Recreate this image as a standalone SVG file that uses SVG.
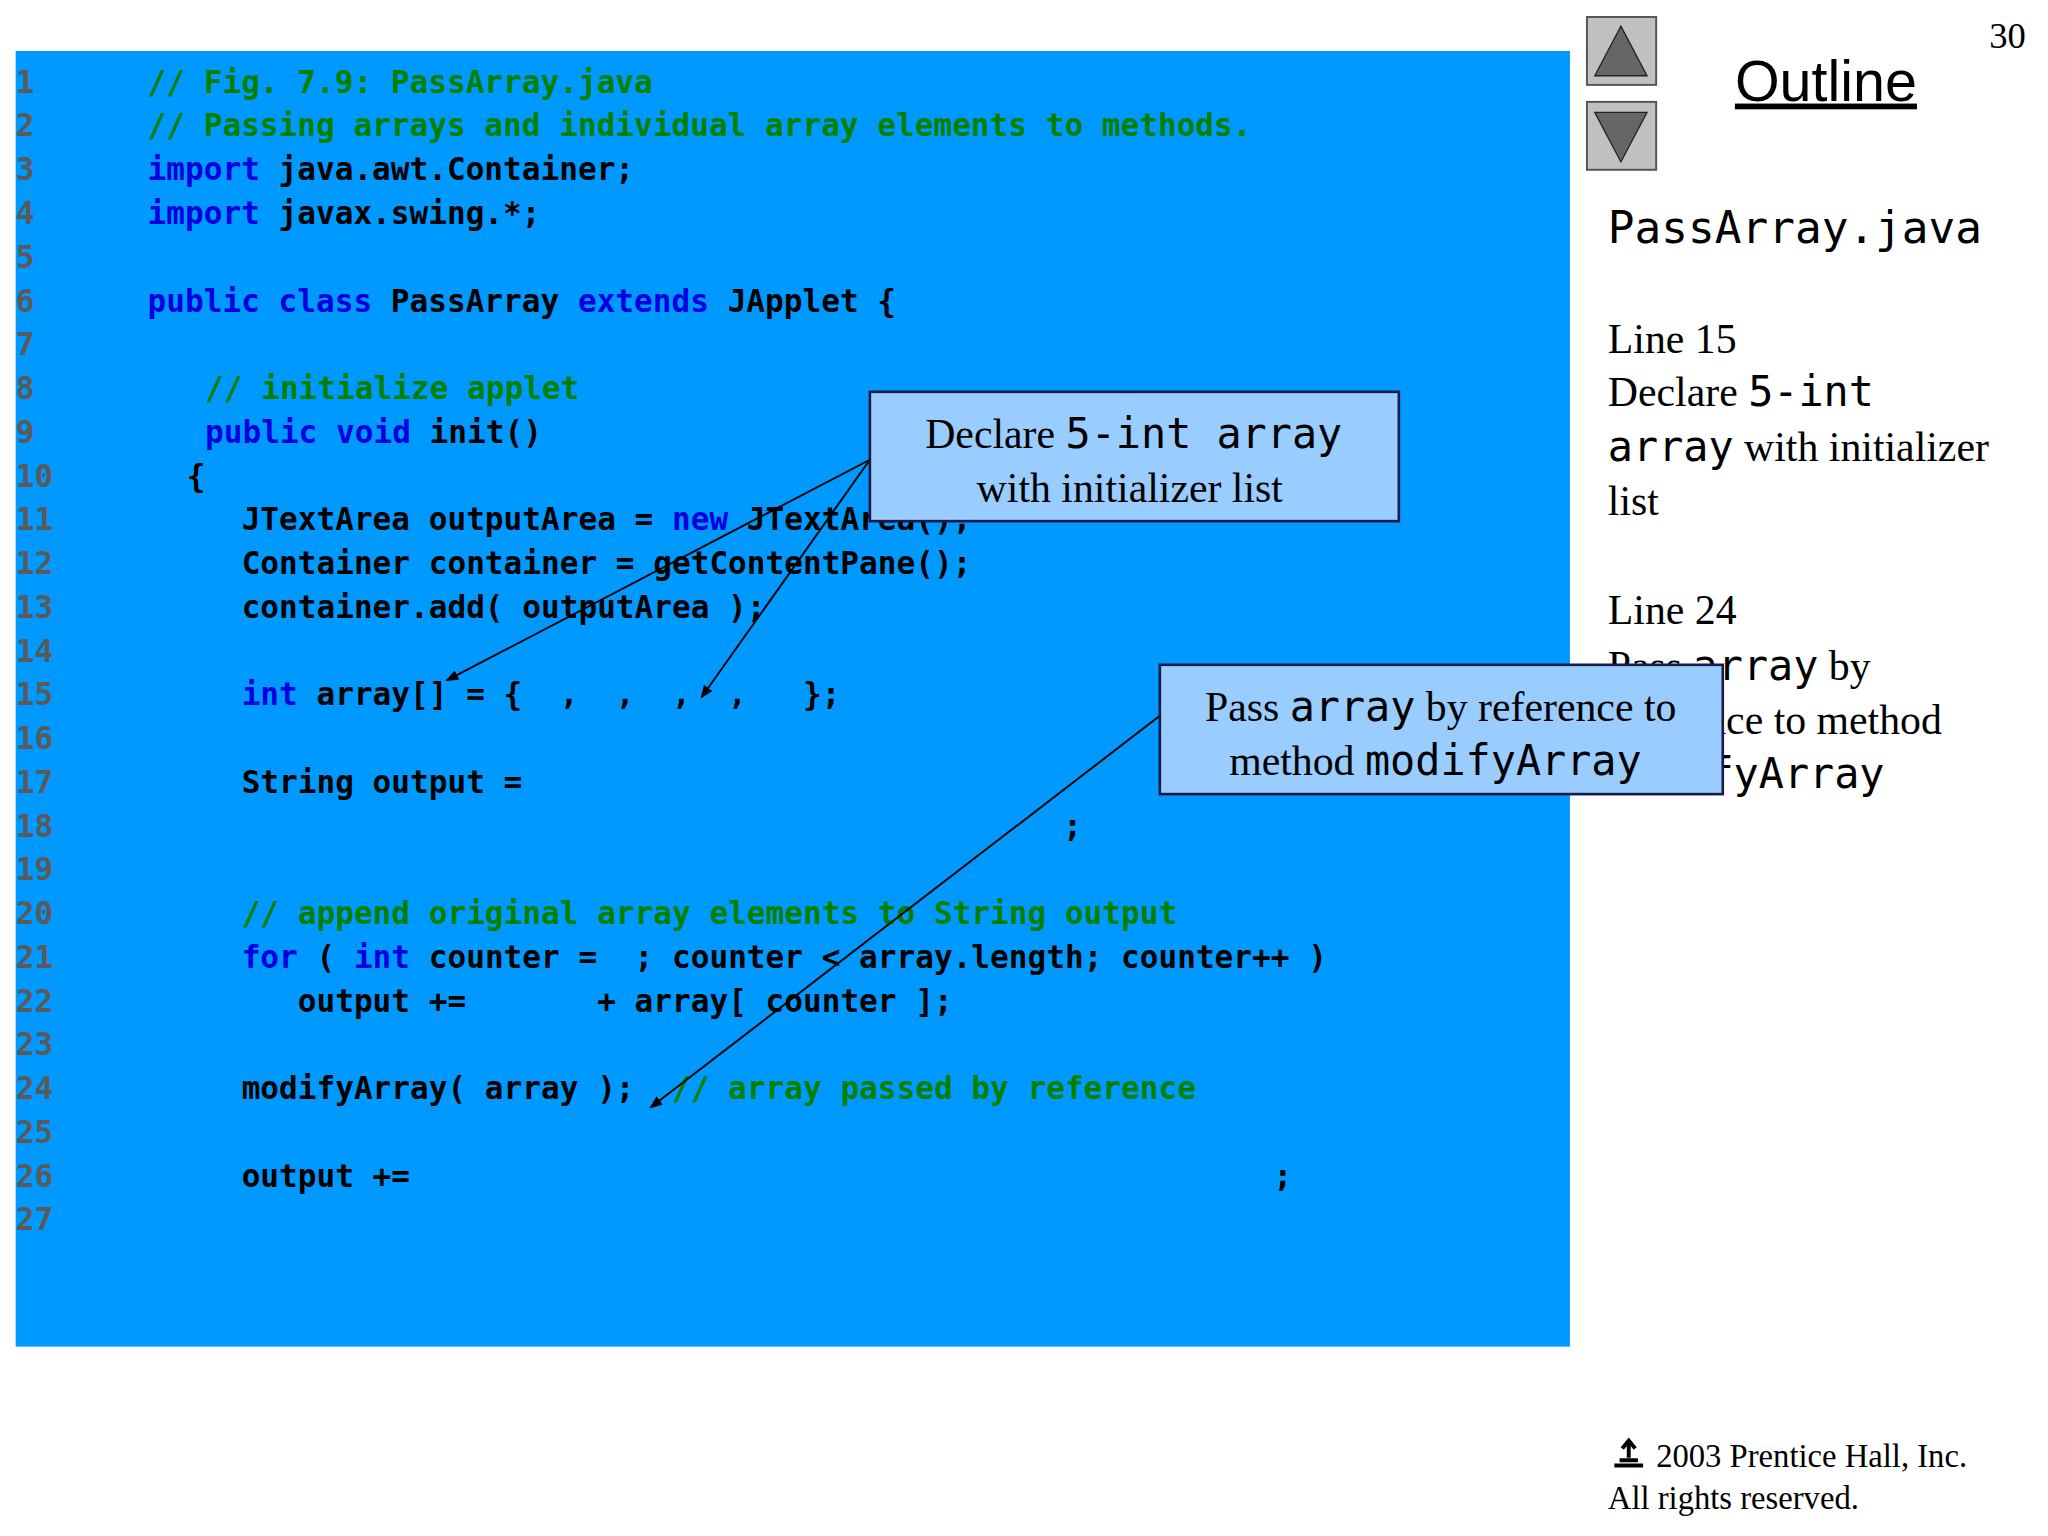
<svg xmlns="http://www.w3.org/2000/svg" width="2048" height="1536" viewBox="0 0 2048 1536">
<style>
text{white-space:pre}
.c{font-family:"DejaVu Sans Mono",monospace;font-weight:bold;font-size:23.8px;fill:#000}
.n{fill:#5a5a5a}.k{fill:#0000E0}.g{fill:#008000}
.s{font-family:"Liberation Serif",serif;font-size:32px;fill:#000}
.f{font-family:"Liberation Serif",serif;font-size:25px;fill:#000}
.m{font-family:"DejaVu Sans Mono",monospace;font-size:32px}
.box{fill:#99CCFF;stroke:#1a1a4a;stroke-width:2}
.arr{stroke:#000;stroke-width:1.5;fill:none;marker-end:url(#ah)}
</style>
<defs><marker id="ah" markerWidth="10" markerHeight="8" refX="9" refY="4" orient="auto" markerUnits="userSpaceOnUse"><path d="M0,0 L10,4 L0,8z" fill="#000"/></marker></defs>
<rect width="2048" height="1536" fill="#fff"/>
<g transform="scale(1.30612)">
<rect id="panel" x="12" y="39" width="1190" height="992" fill="#0099FF"/>
<g id="code" class="c" xml:space="preserve">
<text x="12" y="71" class="n">1</text><text x="113" y="71" class="g">// Fig. 7.9: PassArray.java</text>
<text x="12" y="104.5" class="n">2</text><text x="113" y="104.5" class="g">// Passing arrays and individual array elements to methods.</text>
<text x="12" y="138" class="n">3</text><text x="113" y="138"><tspan class="k">import</tspan> java.awt.Container;</text>
<text x="12" y="171.5" class="n">4</text><text x="113" y="171.5"><tspan class="k">import</tspan> javax.swing.*;</text>
<text x="12" y="205" class="n">5</text>
<text x="12" y="238.5" class="n">6</text><text x="113" y="238.5"><tspan class="k">public class</tspan> PassArray <tspan class="k">extends</tspan> JApplet {</text>
<text x="12" y="272" class="n">7</text>
<text x="12" y="305.5" class="n">8</text><text x="157" y="305.5" class="g">// initialize applet</text>
<text x="12" y="339" class="n">9</text><text x="157" y="339"><tspan class="k">public void</tspan> init()</text>
<text x="12" y="372.5" class="n">10</text><text x="143" y="372.5">{</text>
<text x="12" y="406" class="n">11</text><text x="185" y="406">JTextArea outputArea = <tspan class="k">new</tspan> JTextArea();</text>
<text x="12" y="439.5" class="n">12</text><text x="185" y="439.5">Container container = getContentPane();</text>
<text x="12" y="473" class="n">13</text><text x="185" y="473">container.add( outputArea );</text>
<text x="12" y="506.5" class="n">14</text>
<text x="12" y="540" class="n">15</text><text x="185" y="540"><tspan class="k">int</tspan> array[] = {  ,  ,  ,  ,   };</text>
<text x="12" y="573.5" class="n">16</text>
<text x="12" y="607" class="n">17</text><text x="185" y="607">String output =</text>
<text x="12" y="640.5" class="n">18</text><text x="814" y="640.5">;</text>
<text x="12" y="674" class="n">19</text>
<text x="12" y="707.5" class="n">20</text><text x="185" y="707.5" class="g">// append original array elements to String output</text>
<text x="12" y="741" class="n">21</text><text x="185" y="741"><tspan class="k">for</tspan> ( <tspan class="k">int</tspan> counter =  ; counter &lt; array.length; counter++ )</text>
<text x="12" y="774.5" class="n">22</text><text x="228" y="774.5">output +=       + array[ counter ];</text>
<text x="12" y="808" class="n">23</text>
<text x="12" y="841.5" class="n">24</text><text x="185" y="841.5">modifyArray( array );  <tspan class="g">// array passed by reference</tspan></text>
<text x="12" y="875" class="n">25</text>
<text x="12" y="908.5" class="n">26</text><text x="185" y="908.5">output +=</text><text x="975" y="908.5">;</text>
<text x="12" y="942" class="n">27</text>
</g>
<g id="side">
<text x="1537" y="37" class="f" text-anchor="middle" style="font-size:28px">30</text>
<g id="btn-up"><rect x="1215" y="13" width="53" height="52" fill="#C0C0C0" stroke="#555" stroke-width="1.5"/><path d="M1241,20 L1261,58 L1221,58z" fill="#666" stroke="#222"/></g>
<g id="btn-down"><rect x="1215" y="78" width="53" height="52" fill="#C0C0C0" stroke="#555" stroke-width="1.5"/><path d="M1221,86 L1261,86 L1241,124z" fill="#666" stroke="#222"/></g>
<text x="1398" y="77" text-anchor="middle" font-family="Liberation Sans,sans-serif" font-size="44" text-decoration="underline">Outline</text>
<text x="1231" y="186" font-family="DejaVu Sans Mono,monospace" font-size="34">PassArray.java</text>
<text x="1231" y="270" class="s">Line 15</text>
<text x="1231" y="311" class="s">Declare <tspan class="m">5-int</tspan></text>
<text x="1231" y="353" class="s"><tspan class="m">array</tspan> with initializer</text>
<text x="1231" y="394" class="s">list</text>
<text x="1231" y="478" class="s">Line 24</text>
<text x="1231" y="521" class="s">Pass <tspan class="m">array</tspan> by</text>
<text x="1231" y="562" class="s">reference to method</text>
<text x="1231" y="603" class="m">modifyArray</text>
<path d="M1236,1122 h22 M1240,1118 h14 M1247,1104 v12 M1242,1109 l5,-6 l5,6" stroke="#000" stroke-width="3" fill="none"/>
<text x="1268" y="1123" class="f">2003 Prentice Hall, Inc.</text>
<text x="1231" y="1155" class="f">All rights reserved.</text>
</g>
<g id="connectors">
<line x1="666" y1="352" x2="342" y2="521" class="arr"/>
<line x1="666" y1="352" x2="537" y2="534" class="arr"/>
<line x1="888" y1="548" x2="498" y2="848" class="arr"/>
</g>
<g id="callout1"><rect x="666" y="300" width="405" height="99" class="box"/>
<text x="868" y="343" class="s" text-anchor="middle">Declare <tspan class="m">5-int array</tspan></text>
<text x="865" y="384" class="s" text-anchor="middle">with initializer list</text></g>
<g id="callout2"><rect x="888" y="509" width="431" height="99" class="box"/>
<text x="1103" y="552" class="s" text-anchor="middle">Pass <tspan class="m">array</tspan> by reference to</text>
<text x="1099" y="593" class="s" text-anchor="middle">method <tspan class="m">modifyArray</tspan></text></g>
</g>
</svg>
